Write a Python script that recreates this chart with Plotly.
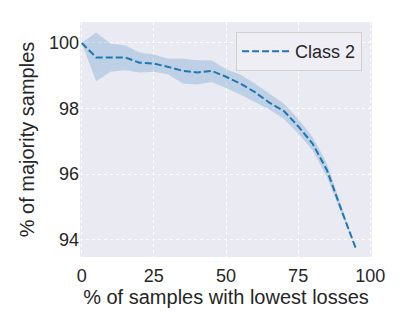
import plotly.graph_objects as go

x_pct = [0, 5, 10, 15, 20, 25, 30, 35, 40, 45, 50, 55, 60, 65, 70, 75, 80, 85, 90, 95]
mean_vals = [100.0, 99.56, 99.56, 99.56, 99.40, 99.37, 99.27, 99.15, 99.10, 99.15,
             98.97, 98.76, 98.50, 98.18, 97.93, 97.46, 96.93, 96.12, 94.90, 93.73]
upper_vals = [100.0, 100.32, 99.98, 99.93, 99.71, 99.65, 99.52, 99.52, 99.47, 99.47,
              99.20, 99.04, 98.76, 98.46, 98.15, 97.69, 97.13, 96.32, 95.00, 93.73]
lower_vals = [100.0, 98.83, 99.12, 99.17, 99.10, 99.12, 99.04, 98.76, 98.73, 98.81,
              98.63, 98.43, 98.20, 97.97, 97.69, 97.24, 96.73, 95.91, 94.80, 93.73]
x_ticks = [0, 25, 50, 75, 100]
y_ticks = [94, 96, 98, 100]
series_name = "Class 2"

blue = "#1f77b4"
fig = go.Figure()
fig.add_trace(go.Scatter(x=x_pct, y=upper_vals, mode="lines", line=dict(width=0),
                         showlegend=False, hoverinfo="skip"))
fig.add_trace(go.Scatter(x=x_pct, y=lower_vals, mode="lines", line=dict(width=0),
                         fill="tonexty", fillcolor="rgba(31,119,180,0.22)",
                         showlegend=False, hoverinfo="skip"))
fig.add_trace(go.Scatter(x=x_pct, y=mean_vals, mode="lines", name=series_name,
                         line=dict(color=blue, width=2, dash="7px,3px")))

font_fam = "Liberation Sans, Arial, sans-serif"
fig.update_layout(
    width=407, height=326,
    margin=dict(l=72, r=43, t=14, b=77),
    paper_bgcolor="white",
    plot_bgcolor="#EAEAF2",
    font=dict(family=font_fam, color="#262626", size=18),
    legend=dict(x=0.966, y=0.957, xanchor="right", yanchor="top",
                bgcolor="rgba(238,238,245,0.85)", bordercolor="#d0d0d0", borderwidth=1,
                font=dict(size=18), itemwidth=48),
    showlegend=True,
)
fig.update_xaxes(range=[-0.6, 100.6], tickvals=x_ticks, showgrid=True, gridcolor="white",
                 griddash="dot", gridwidth=1.3, zeroline=False, showline=False, ticks="",
                 tickfont=dict(size=18), ticklabelstandoff=6,
                 title=dict(text="% of samples with lowest losses", font=dict(size=20), standoff=2))
fig.update_yaxes(range=[93.47, 100.64], tickvals=y_ticks, showgrid=True, gridcolor="white",
                 griddash="dot", gridwidth=1.3, zeroline=False, showline=False, ticks="",
                 tickfont=dict(size=18), ticklabelstandoff=0,
                 title=dict(text="% of majority samples", font=dict(size=20), standoff=8))
fig.write_html("out.html")
